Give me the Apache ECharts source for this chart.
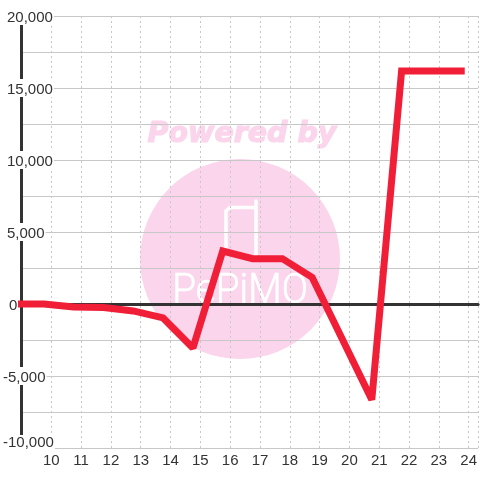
<!DOCTYPE html>
<html>
<head>
<meta charset="utf-8">
<style>html,body{margin:0;padding:0;background:#fff}#main{width:480px;height:480px}</style>
<script src="https://cdn.jsdelivr.net/npm/echarts@6/dist/echarts.min.js"></script>
</head>
<body>
<div id="main"></div>
<script>
var xValues = [9, 9.75, 10.75, 11.75, 12.75, 13.75, 14.75, 15.75, 16.75, 17.75, 18.75, 19.75, 20.75, 21.75, 22.75, 23.75];
var yValues = [0, 0, -200, -240, -480, -970, -3050, 3680, 3150, 3150, 1850, -2400, -6650, 16180, 16180, 16180];
var yLabels = ['20,000', '15,000', '10,000', '5,000', '0', '-5,000', '-10,000'];

var chartDom = document.getElementById('main');
var myChart = echarts.init(chartDom);
var option;

function yLabel(value) {
    if (value % 5000 !== 0) return '';
    var text = echarts.format.addCommas(value);
    if (yLabels.indexOf(text) < 0) return '';
    if (value === -10000) return '{m|' + text + '}';
    if (value < 0) return '{n|' + text + '}';
    if (value === 0) return '{z|' + text + '}';
    return '{p|' + text + '}';
}

var labelFont = { fontFamily: 'Liberation Sans', fontSize: 15, color: '#333', lineHeight: 13 };

option = {
    animation: false,
    backgroundColor: '#fff',
    grid: { left: 20.5, right: 0, top: 16, bottom: 32 },
    graphic: [
        { type: 'circle', z: -10, shape: { cx: 240, cy: 259, r: 100 }, style: { fill: '#fbd5ec' } },
        { type: 'text', z: -10, x: 242, y: 135, style: { text: 'Powered by', fill: '#fbd5ec', stroke: '#fbd5ec', lineWidth: 1.2, font: 'italic bold 28.5px "DejaVu Sans"', align: 'center', verticalAlign: 'middle' } },
        { type: 'polyline', z: -9, shape: { points: [[226, 250], [226, 211], [230, 207.5], [255, 207.5]] }, style: { fill: 'none', stroke: '#fff', lineWidth: 3.5, lineCap: 'round' } },
        { type: 'polyline', z: -9, shape: { points: [[256, 201], [256, 255]] }, style: { fill: 'none', stroke: '#fff', lineWidth: 3.5, lineCap: 'round' } },
        { type: 'text', z: -9, x: 240, y: 292, scaleX: 0.92, style: { text: 'PePiMO', fill: '#fff', stroke: '#fff', lineWidth: 0.6, font: '300 42px Roboto', align: 'center', verticalAlign: 'middle' } }
    ],
    xAxis: [
        {
            type: 'value', min: 9, max: 24.3167, interval: 1,
            axisLine: { show: false, onZero: false },
            axisTick: { show: false },
            axisLabel: { margin: 5, color: '#333', fontFamily: 'Liberation Sans', fontSize: 15, showMinLabel: false, showMaxLabel: false },
            splitLine: { show: true, lineStyle: { color: '#c8c8c8', width: 1, type: [2, 3] } }
        },
        {
            type: 'value', min: 9, max: 24.3167, interval: 1, position: 'bottom',
            axisLine: { show: true, onZero: true, lineStyle: { color: '#333', width: 3 } },
            axisTick: { show: false },
            axisLabel: { show: false },
            splitLine: { show: false }
        }
    ],
    yAxis: {
        type: 'value', min: -10000, max: 20000, interval: 2500,
        axisLine: { show: true, lineStyle: { color: '#333', width: 3 } },
        axisTick: { show: false },
        axisLabel: {
            align: 'left', margin: 18.5, formatter: yLabel, verticalAlignMinLabel: 'bottom',
            rich: {
                p: Object.assign({ backgroundColor: '#fff', padding: [3, 1, 0, 4] }, labelFont),
                n: Object.assign({ backgroundColor: '#fff', padding: [3, 1, 0, 0] }, labelFont),
                z: Object.assign({ backgroundColor: '#fff', padding: [3, 1, 0, 6] }, labelFont),
                m: Object.assign({}, labelFont, { backgroundColor: '#fff', padding: [0, 1, 0, 0], lineHeight: 11 })
            }
        },
        splitLine: { show: true, lineStyle: { color: '#c8c8c8', width: 1 } }
    },
    series: [
        {
            type: 'line',
            clip: false,
            showSymbol: false,
            symbol: 'none',
            data: xValues.map(function (x, i) { return [x, yValues[i]]; }),
            lineStyle: { color: '#f01f37', width: 7, cap: 'square', join: 'miter', miterLimit: 1.6 }
        }
    ]
};

myChart.setOption(option);
</script>
</body>
</html>
